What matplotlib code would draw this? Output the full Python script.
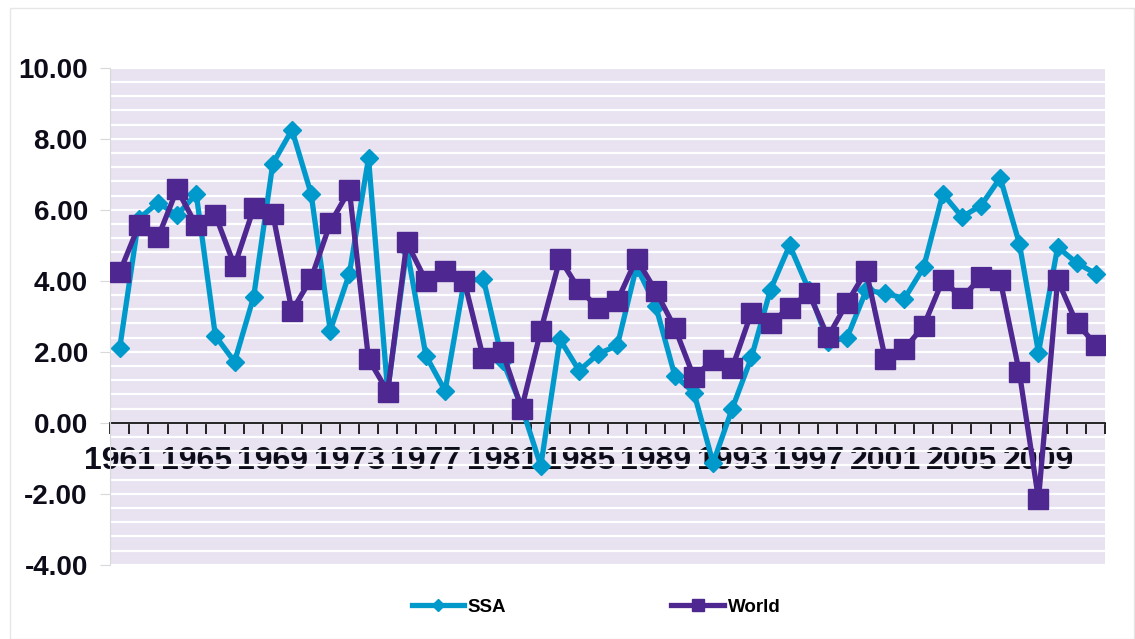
import numpy as np
import matplotlib.pyplot as plt
from matplotlib.ticker import MultipleLocator, FixedLocator, FuncFormatter

plt.rcParams['font.family'] = ['Liberation Sans', 'DejaVu Sans']

# ── Data ───────────────────────────────────────────────────────────────────────
years = list(range(1961, 2013))

ssa = [2.10, 5.75, 6.20, 5.85, 6.45, 2.45, 1.72, 3.55, 7.30, 8.25,
       6.45, 2.60, 4.20, 7.45, 0.90, 4.90, 1.89, 0.90, 4.00, 4.05,
       1.75, 0.45, -1.21, 2.35, 1.47, 1.94, 2.18, 4.40, 3.30, 1.33,
       0.85, -1.13, 0.40, 1.84, 3.75, 5.00, 3.75, 2.28, 2.40, 3.73,
       3.65, 3.50, 4.38, 6.45, 5.80, 6.12, 6.90, 5.05, 1.98, 4.95,
       4.50, 4.20]

world = [4.24, 5.56, 5.22, 6.58, 5.56, 5.85, 4.42, 6.04, 5.88, 3.15,
         4.06, 5.62, 6.55, 1.80, 0.88, 5.08, 4.00, 4.28, 4.00, 1.82,
         2.00, 0.40, 2.60, 4.62, 3.76, 3.24, 3.44, 4.62, 3.72, 2.68,
         1.28, 1.78, 1.55, 3.10, 2.82, 3.24, 3.66, 2.42, 3.38, 4.28,
         1.80, 2.08, 2.73, 4.02, 3.52, 4.10, 4.02, 1.42, -2.15, 4.02,
         2.80, 2.20]

label_years = list(range(1961, 2012, 4))

SSA_COLOR   = "#0099CC"
WORLD_COLOR = "#4E2790"
BG_COLOR    = "#E8E2F1"

# ── Plot ───────────────────────────────────────────────────────────────────────
fig = plt.figure(figsize=(11.35, 6.39), dpi=100)
ax = fig.add_axes([0.097, 0.116, 0.877, 0.778])
ax.set_facecolor(BG_COLOR)

x = np.arange(len(years))
ax.plot(x, ssa, color=SSA_COLOR, lw=3.8, marker="D", ms=9.5,
        label="SSA", zorder=3)
ax.plot(x, world, color=WORLD_COLOR, lw=3.8, marker="s", ms=14,
        label="World", zorder=4)

ax.set_xlim(-0.5, len(years) - 0.5)
ax.set_ylim(-4, 10)

# y axis: labels every 2, white grid every 0.4
ax.yaxis.set_major_locator(MultipleLocator(2))
ax.yaxis.set_minor_locator(MultipleLocator(0.4))
ax.yaxis.set_major_formatter(FuncFormatter(lambda v, p: f"{v:.2f}"))
ax.grid(axis="y", which="both", color="white", lw=1.6, zorder=1)
ax.tick_params(axis="y", which="major", length=7, color="#D9D9D9",
               labelsize=20, pad=9, labelcolor="#0D0D1A")
ax.tick_params(axis="y", which="minor", length=0)
for lbl in ax.get_yticklabels():
    lbl.set_fontweight("bold")

# x axis sits at zero, marks at category edges, labels every 4 years
ax.spines["bottom"].set_position(("data", 0))
ax.spines["bottom"].set_color("black")
ax.spines["bottom"].set_linewidth(1.2)
ax.spines["bottom"].set_zorder(2)
for side in ("top", "right"):
    ax.spines[side].set_visible(False)
ax.spines["left"].set_color("#D9D9D9")

ax.xaxis.set_minor_locator(FixedLocator(np.arange(-0.5, len(years), 1)))
ax.set_xticks([years.index(y) for y in label_years])
ax.set_xticklabels([str(y) for y in label_years], fontsize=23,
                   fontweight="bold", color="#0D0D1A")
ax.tick_params(axis="x", which="major", length=0, pad=17)
ax.tick_params(axis="x", which="minor", length=8, width=1.2,
               direction="out", color="black")
for lbl in ax.get_xticklabels():
    lbl.set_zorder(5)

fig.legend(loc="center", bbox_to_anchor=(0.525, 0.05), ncol=2,
           frameon=False, handlelength=2.8, columnspacing=8.8,
           markerscale=0.6, prop={"weight": "bold", "size": 13.5},
           handletextpad=0.2)

# faint outer chart border
fig.patches.append(plt.Rectangle((0.009, 0.0), 0.99, 0.988,
                                 transform=fig.transFigure, fill=False,
                                 edgecolor="#E6E6E6", lw=1))

fig.savefig("out.png", dpi=100)
